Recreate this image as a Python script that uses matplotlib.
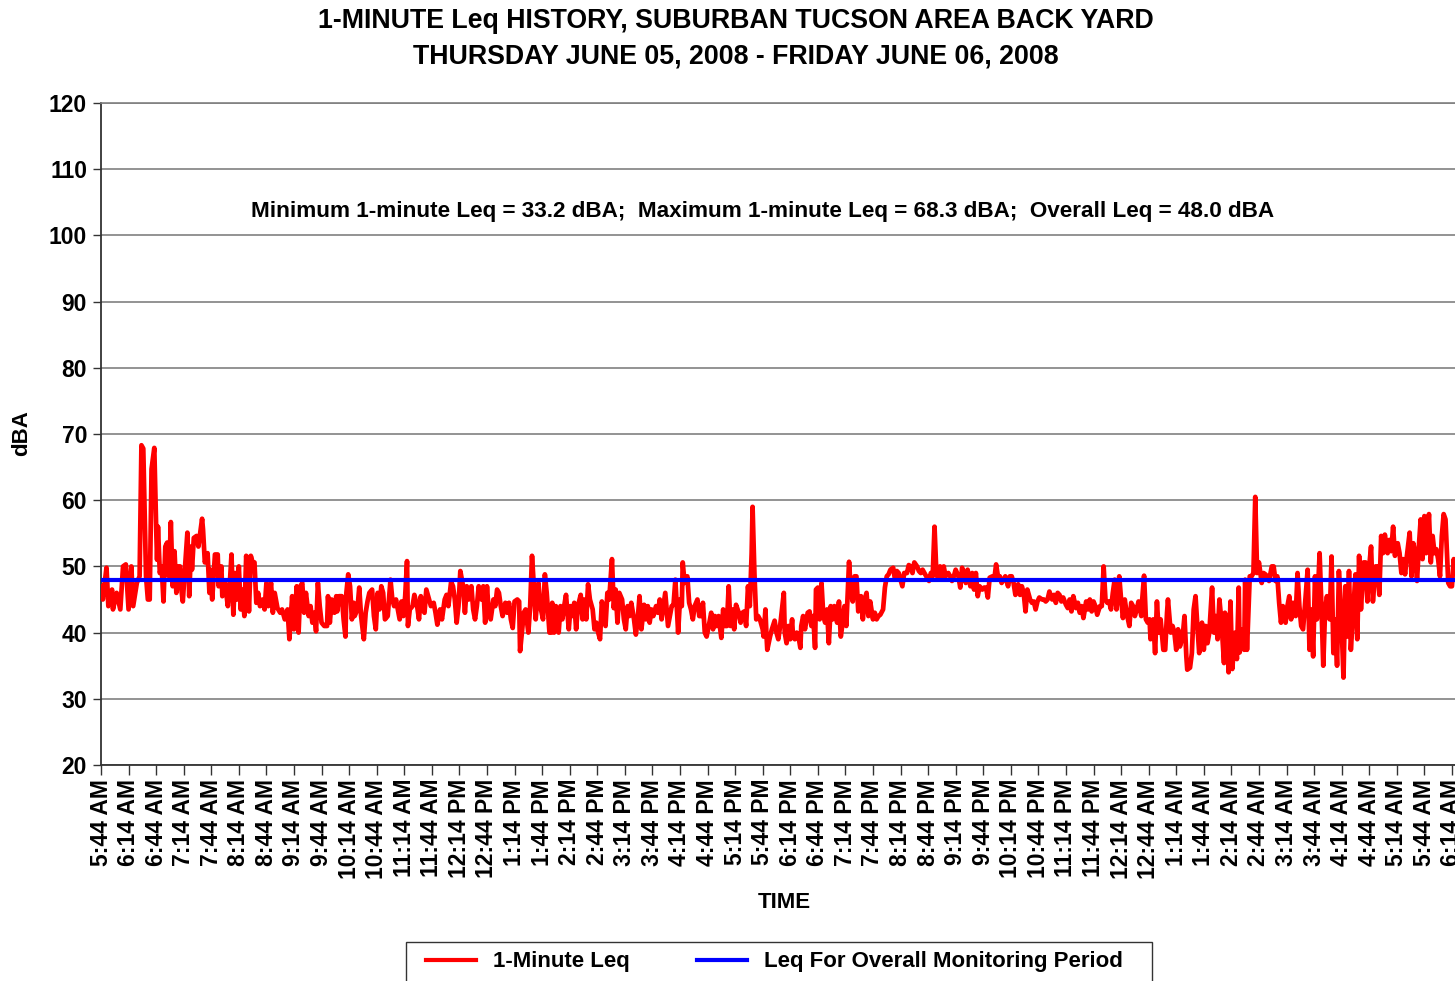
import datetime as dt

import matplotlib
matplotlib.use("Agg")
import matplotlib.pyplot as plt
from matplotlib.lines import Line2D
from matplotlib.patches import Rectangle

plt.rcParams["font.family"] = ["Liberation Sans", "DejaVu Sans"]
plt.rcParams["font.weight"] = "bold"

# ── 1-minute Leq record (minutes after 5:44 AM, dBA) ─────────────────────────
minute = [
    0, 2, 4, 6, 8, 12, 13, 17, 21, 24, 27, 30, 33, 35, 39, 42, 44, 46, 49, 51,
    53, 55, 58, 60, 61, 62, 64, 66, 68, 70, 72, 74, 76, 78, 80, 82, 84, 86, 87, 89,
    91, 94, 96, 98, 99, 101, 104, 106, 108, 110, 111, 113, 116, 118, 119, 121, 124, 127, 128, 131,
    132, 135, 138, 140, 142, 144, 146, 148, 150, 152, 154, 156, 158, 160, 161, 163, 165, 167, 169, 171,
    173, 176, 178, 180, 182, 185, 187, 189, 192, 195, 197, 200, 203, 205, 208, 210, 213, 215, 217, 219,
    221, 223, 226, 228, 230, 232, 234, 236, 238, 240, 243,
    246, 247, 249, 251, 254, 256, 257, 259, 262, 264, 266, 267, 269, 271, 273, 275, 276, 279, 281, 283,
    286, 288, 290, 292, 295, 297, 299, 301, 303, 305, 307, 309, 312, 315, 317, 319, 321, 323, 325, 327,
    329, 331, 333, 334, 336, 339, 341, 344, 346, 348, 350, 352, 354, 357, 359, 362, 364, 366, 369, 371,
    374, 376, 378, 381, 383, 385, 387, 389, 391, 394, 396, 398, 400, 403, 405, 407, 409, 411, 414, 416,
    418, 420, 422, 424, 427, 429, 431, 433, 435, 437, 440, 442, 444, 446, 448, 450, 453, 455, 456, 458,
    460, 462, 465, 467, 469, 471, 473, 476, 478, 481, 483, 485, 488,
    490, 491, 493, 495, 498, 500, 502, 504, 506, 509, 511, 513, 515, 517, 519, 522, 524, 526, 528, 530,
    532, 535, 537, 539, 541, 543, 545, 547, 549, 551, 553, 556, 558, 560, 562, 564, 567, 569, 571, 573,
    575, 577, 580, 582, 584, 586, 588, 591, 593, 595, 597, 599, 601, 604, 606, 608, 610, 612, 614, 617,
    619, 621, 623, 625, 628, 630, 632, 633, 635, 638, 640, 642, 644, 646, 649, 651, 653, 655, 657, 659,
    662, 664, 666, 668, 670, 672, 675, 677, 679, 681, 683, 685, 687, 689, 691, 694, 696, 698, 700, 702,
    704, 706, 708, 709, 711, 713, 715, 717, 720, 721, 723, 724, 725, 728, 730, 733,
    735, 737, 739, 741, 743, 744, 746, 748, 750, 752, 753, 755, 757, 759, 761, 762, 764, 766, 769, 771,
    773, 775, 777, 778, 780, 782, 784, 786, 788, 790, 792, 794, 796, 798, 801, 803, 805, 807, 809, 811,
    814, 816, 818, 820, 822, 824, 827, 829, 831, 833, 835, 837, 840, 842, 844, 846, 848, 851, 853, 855,
    857, 859, 862, 864, 866, 868, 870, 872, 874, 877, 879, 881, 883, 885, 888, 890, 892, 894, 896, 898,
    901, 903, 905, 907, 909, 911, 913, 915, 917, 919, 922, 924, 926, 928, 930, 933, 935, 937, 939, 941,
    943, 946, 948, 950, 952, 954, 956, 959, 961, 963, 965, 967, 970, 972, 974, 976, 978,
    980, 982, 984, 987, 989, 991, 993, 995, 998, 1000, 1002, 1004, 1006, 1008, 1011, 1013, 1015, 1017, 1019, 1021,
    1024, 1026, 1028, 1030, 1032, 1035, 1037, 1039, 1041, 1043, 1045, 1047, 1050, 1052, 1054, 1056, 1058, 1061, 1063, 1065,
    1067, 1069, 1072, 1074, 1076, 1078, 1080, 1082, 1084, 1087, 1089, 1091, 1093, 1095, 1097, 1099, 1101, 1103, 1105, 1108,
    1110, 1112, 1114, 1116, 1119, 1121, 1123, 1125, 1127, 1129, 1132, 1133, 1135, 1137, 1139, 1141, 1142, 1145, 1147, 1149,
    1151, 1153, 1156, 1158, 1160, 1161, 1164, 1166, 1168, 1170, 1172, 1174, 1177, 1179, 1181, 1182, 1185, 1187, 1189, 1191,
    1193, 1195, 1198, 1200, 1202, 1204, 1206, 1209, 1211, 1213, 1215, 1217, 1219, 1222, 1223,
    1225, 1227, 1229, 1231, 1234, 1236, 1238, 1239, 1242, 1244, 1245, 1247, 1250, 1252, 1254, 1256, 1258, 1260, 1263, 1265,
    1267, 1269, 1271, 1274, 1276, 1278, 1280, 1282, 1284, 1286, 1289, 1291, 1293, 1295, 1297, 1300, 1302, 1304, 1306, 1308,
    1310, 1313, 1315, 1317, 1319, 1321, 1323, 1326, 1328, 1330, 1332, 1334, 1337, 1339, 1341, 1343, 1345, 1347, 1350, 1352,
    1354, 1356, 1358, 1360, 1363, 1365, 1367, 1369, 1371, 1374, 1376, 1378, 1380, 1382, 1384, 1387, 1389, 1391, 1393, 1395,
    1397, 1400, 1402, 1404, 1406, 1408, 1411, 1413, 1415, 1417, 1419, 1421, 1424, 1426, 1428, 1430, 1432, 1434, 1436, 1438,
    1440, 1442, 1445, 1447, 1449, 1451, 1453, 1455, 1457, 1459, 1461, 1463, 1466, 1468, 1470, 1472, 1473,
]

leq_dba = [
    47.0, 45.0, 47.5, 49.8, 44.0, 46.5, 43.5, 46.0, 43.5, 50.0, 50.3, 43.5, 50.0, 44.0, 47.5, 48.5, 68.3, 67.8, 48.5, 45.0,
    45.0, 64.7, 67.9, 56.0, 51.0, 56.0, 49.0, 50.0, 44.7, 53.0, 53.6, 48.5, 56.7, 47.0, 52.3, 46.0, 50.0, 50.0, 47.0, 44.7,
    49.0, 55.1, 45.5, 53.0, 49.5, 54.3, 54.6, 53.0, 55.1, 57.2, 55.6, 50.6, 52.0, 46.0, 49.5, 45.0, 51.8, 51.8, 47.0, 50.0,
    45.5, 47.5, 44.0, 47.0, 51.8, 42.7, 49.0, 45.0, 50.0, 43.5, 46.5, 42.5, 51.6, 47.0, 43.2, 51.6, 50.6, 50.6, 44.5, 46.0,
    44.0, 45.0, 43.5, 47.5, 44.0, 47.5, 43.0, 46.0, 43.7, 43.0, 43.5, 42.0, 43.5, 39.0, 45.5, 40.5, 47.0, 40.0, 47.0, 47.5,
    43.0, 46.0, 42.5, 44.0, 41.5, 43.0, 40.2, 47.5, 44.0, 41.5, 41.0,
    41.0, 45.5, 41.5, 45.0, 43.0, 45.5, 43.2, 45.5, 45.5, 42.0, 39.4, 46.0, 48.8, 47.0, 42.0, 44.5, 42.5, 43.5, 46.8, 42.5,
    39.0, 43.0, 44.7, 46.0, 46.5, 42.5, 40.5, 46.0, 43.5, 47.0, 46.0, 42.0, 42.5, 48.0, 45.0, 44.0, 45.0, 43.5, 42.0, 44.7,
    42.5, 45.5, 50.8, 41.0, 43.5, 44.0, 45.7, 44.0, 42.0, 45.5, 43.5, 43.0, 46.5, 45.0, 44.0, 44.5, 43.0, 41.2, 43.5, 42.0,
    45.0, 45.7, 44.0, 47.7, 47.0, 45.0, 41.5, 44.0, 49.3, 47.0, 43.0, 47.0, 45.0, 47.0, 43.5, 42.0, 44.0, 47.0, 45.0, 47.0,
    41.5, 47.0, 43.0, 42.0, 45.0, 44.0, 46.5, 46.0, 44.0, 42.5, 44.5, 43.0, 44.5, 42.0, 40.7, 44.7, 45.0, 44.7, 37.2, 40.0,
    43.0, 43.5, 40.0, 44.0, 51.6, 47.0, 42.0, 47.5, 44.0, 42.0, 48.8, 46.0, 40.0,
    40.0, 44.5, 40.0, 44.0, 40.0, 44.0, 42.0, 44.0, 45.7, 40.5, 44.0, 42.5, 44.5, 40.5, 44.0, 45.7, 42.0, 45.0, 42.0, 47.3,
    45.0, 43.5, 40.5, 41.5, 40.0, 39.0, 44.7, 43.0, 41.0, 46.0, 45.0, 51.1, 43.7, 46.5, 41.5, 46.0, 45.0, 42.0, 40.5, 44.0,
    42.5, 44.5, 42.0, 39.7, 42.0, 45.5, 40.5, 44.2, 42.0, 44.0, 41.5, 43.5, 42.5, 44.0, 43.0, 45.0, 42.0, 44.0, 46.0, 41.0,
    42.5, 44.0, 44.2, 48.0, 40.0, 45.0, 44.0, 50.6, 47.5, 48.5, 44.5, 43.5, 42.0, 44.0, 45.0, 42.5, 42.5, 44.5, 40.0, 39.4,
    41.5, 43.0, 40.5, 42.5, 41.0, 42.5, 39.2, 43.5, 41.0, 41.0, 47.0, 41.0, 43.5, 40.5, 44.2, 43.0, 41.5, 43.0, 43.2, 41.0,
    47.0, 44.0, 52.0, 59.0, 49.0, 42.0, 42.5, 42.0, 40.5, 39.4, 43.5, 40.0, 37.4, 39.4, 40.5, 41.8,
    40.0, 39.0, 41.0, 43.5, 46.0, 40.0, 38.4, 41.0, 39.0, 42.0, 39.4, 39.0, 40.0, 39.4, 37.7, 41.0, 42.5, 40.5, 43.0, 43.2,
    41.0, 42.5, 37.7, 46.5, 46.8, 42.0, 47.5, 42.5, 41.5, 43.5, 38.4, 44.0, 42.0, 44.0, 41.5, 44.7, 39.4, 41.5, 44.0, 41.0,
    50.7, 46.0, 44.7, 48.5, 48.5, 43.2, 45.5, 42.0, 45.0, 46.0, 42.5, 44.7, 42.0, 43.0, 42.0, 42.5, 42.7, 43.5, 46.8, 48.5,
    48.8, 49.5, 49.8, 48.0, 49.3, 49.0, 48.0, 47.0, 49.0, 49.0, 50.2, 50.0, 49.0, 50.6, 50.0, 49.3, 49.0, 49.5, 49.0, 48.5,
    47.8, 49.0, 48.5, 56.0, 49.0, 48.0, 50.0, 48.0, 50.0, 48.5, 49.0, 48.5, 47.8, 48.5, 49.5, 48.5, 46.8, 49.8, 49.0, 47.5,
    49.5, 47.0, 49.0, 46.5, 49.0, 45.5, 47.0, 46.5, 46.8, 46.8, 45.3, 48.3, 48.5, 48.0, 50.3, 48.5, 48.5,
    47.5, 48.0, 48.5, 47.0, 48.5, 48.5, 47.5, 45.7, 47.3, 45.7, 47.0, 46.0, 43.2, 46.5, 45.0, 44.5, 44.7, 43.5, 44.7, 45.3,
    45.0, 45.0, 44.7, 45.0, 46.2, 45.0, 45.7, 44.5, 46.0, 45.7, 44.7, 45.3, 44.2, 43.7, 45.0, 43.2, 45.5, 43.7, 44.5, 43.0,
    44.0, 42.2, 44.7, 43.5, 45.0, 43.2, 44.7, 44.0, 42.7, 44.0, 44.0, 50.0, 45.0, 44.5, 44.7, 43.5, 46.0, 48.0, 43.5, 48.5,
    45.0, 42.2, 45.0, 43.0, 41.0, 44.5, 44.0, 42.5, 43.5, 44.7, 42.5, 45.0, 48.6, 42.0, 41.5, 42.0, 39.0, 42.0, 36.9, 44.7,
    40.0, 42.0, 37.4, 37.4, 43.0, 45.0, 40.0, 41.0, 40.0, 37.4, 40.5, 37.9, 39.4, 42.5, 36.4, 34.4, 34.7, 36.9, 43.5, 45.5,
    41.0, 36.9, 41.5, 37.4, 41.0, 38.4, 40.0, 46.8, 40.0, 42.5, 39.0, 45.0, 42.0, 35.4, 43.0,
    42.0, 34.0, 44.7, 34.5, 40.0, 36.0, 46.8, 37.0, 40.5, 37.4, 48.0, 37.4, 48.5, 48.5, 49.0, 60.5, 49.0, 50.6, 47.5, 49.0,
    48.8, 48.5, 47.8, 50.0, 50.0, 47.8, 48.5, 44.5, 41.5, 44.0, 41.5, 44.0, 45.5, 42.0, 44.5, 42.5, 49.0, 44.0, 41.0, 40.5,
    44.0, 49.5, 37.4, 43.5, 36.4, 48.5, 42.0, 52.0, 44.0, 35.0, 43.5, 45.5, 42.0, 51.5, 36.9, 42.0, 35.0, 49.3, 41.0, 33.2,
    47.0, 39.4, 49.3, 37.4, 44.0, 48.8, 39.0, 51.6, 43.5, 50.6, 50.6, 44.7, 50.0, 53.0, 44.7, 50.0, 50.0, 45.7, 54.6, 52.0,
    54.8, 52.0, 54.0, 52.3, 56.0, 51.6, 53.5, 52.0, 49.0, 51.1, 48.8, 51.6, 55.1, 48.5, 53.5, 52.0, 47.8, 53.0, 57.1, 51.1,
    57.6, 52.0, 57.9, 50.6, 54.6, 52.0, 52.6, 51.1, 48.5, 54.6, 57.9, 57.1, 47.5, 47.0, 47.0, 51.1, 50.0,
]

OVERALL_LEQ = 48.0
MIN_LEQ = 33.2
MAX_LEQ = 68.3

# ── Axis ticks: every 30 minutes from 5:44 AM Thursday to 6:14 AM Friday ─────
START = dt.datetime(2008, 6, 5, 5, 44)
tick_minutes = list(range(0, 1471, 30))
tick_labels = [(START + dt.timedelta(minutes=m)).strftime("%I:%M %p").lstrip("0")
               for m in tick_minutes]
y_ticks = list(range(20, 121, 10))

W, H = 1455, 981
fig = plt.figure(figsize=(W / 100, H / 100), dpi=100)

# axes run off the right edge of the page, as in the original export
ax = fig.add_axes([101 / W, (H - 765) / H, 1500 * 0.919 / W, (765 - 103) / H])

ax.plot(minute, leq_dba, color="#ff0000", linewidth=3.4, solid_joinstyle="round", zorder=3)
ax.plot([minute[0], minute[-1]], [OVERALL_LEQ, OVERALL_LEQ], color="#0000ff",
        linewidth=3.0, zorder=4)

ax.set_xlim(0, 1500)
ax.set_ylim(20, 120)
ax.set_yticks(y_ticks)
ax.set_xticks(tick_minutes)
ax.set_xticklabels(tick_labels, rotation=90, fontsize=16.5, fontweight="bold")
ax.set_yticklabels([str(v) for v in y_ticks], fontsize=16.5, fontweight="bold")
ax.tick_params(axis="x", length=7, width=1, color="#333333", pad=3)
ax.tick_params(axis="y", length=6, width=1, color="#333333", pad=4)

ax.grid(axis="y", color="#808080", linewidth=1.2)
ax.set_axisbelow(True)
for side in ("left", "bottom"):
    ax.spines[side].set_color("#333333")
    ax.spines[side].set_linewidth(1.3)
ax.spines["top"].set_color("#808080")
ax.spines["top"].set_linewidth(1.2)
ax.spines["right"].set_visible(False)

# ── Titles and labels ───────────────────────────────────────────────────────
fig.text(736 / W, 1 - 21 / H, "1-MINUTE Leq HISTORY, SUBURBAN TUCSON AREA BACK YARD",
         ha="center", va="center", fontsize=19.3, fontweight="bold")
fig.text(736 / W, 1 - 56 / H, "THURSDAY JUNE 05, 2008 - FRIDAY JUNE 06, 2008",
         ha="center", va="center", fontsize=19.3, fontweight="bold")
fig.text(763 / W, 1 - 211 / H,
         f"Minimum 1-minute Leq = {MIN_LEQ:.1f} dBA;  Maximum 1-minute Leq = {MAX_LEQ:.1f} dBA;  "
         f"Overall Leq = {OVERALL_LEQ:.1f} dBA",
         ha="center", va="center", fontsize=16.2, fontweight="bold")
fig.text(22 / W, 1 - 433 / H, "dBA", rotation=90, ha="center", va="center",
         fontsize=16, fontweight="bold")
fig.text(784 / W, 1 - 903 / H, "TIME", ha="center", va="center",
         fontsize=16, fontweight="bold")

# ── Legend: plain box running off the bottom edge ───────────────────────────
fig.add_artist(Rectangle((406 / W, -0.02), (1152 - 406) / W, (H - 942) / H + 0.02,
                         transform=fig.transFigure, facecolor="white",
                         edgecolor="#333333", linewidth=1.0, zorder=5))
handles = [Line2D([], [], color="#ff0000", linewidth=3.0),
           Line2D([], [], color="#0000ff", linewidth=3.0)]
leg = fig.legend(handles, ["1-Minute Leq", "Leq For Overall Monitoring Period"],
                 loc="center", bbox_to_anchor=(774.5 / W, 1 - 962 / H), ncol=2,
                 fontsize=16, frameon=False, handlelength=2.25, columnspacing=3.0,
                 handletextpad=0.77, borderpad=0.2)
leg.set_zorder(6)
for t in leg.get_texts():
    t.set_fontweight("bold")

fig.savefig("out.png", dpi=100)
print("Saved: out.png")
